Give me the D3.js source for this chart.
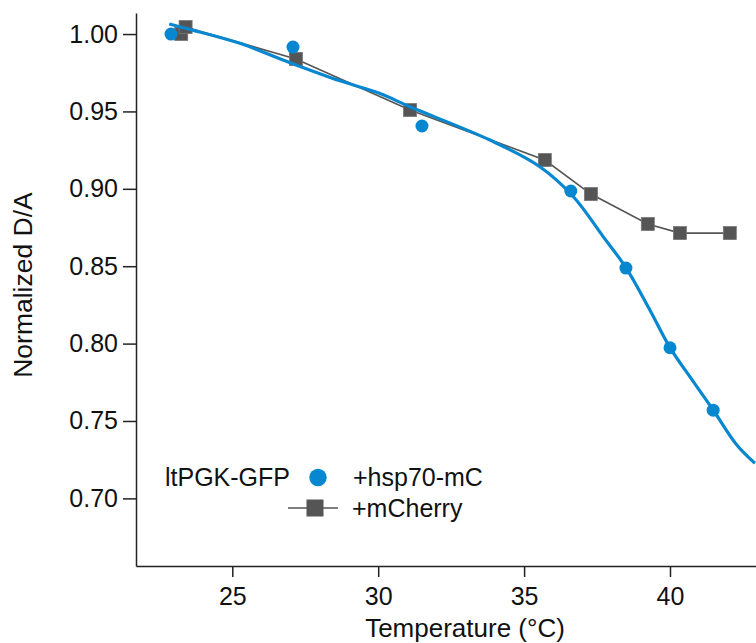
<!DOCTYPE html>
<html>
<head>
<meta charset="utf-8">
<script src="https://cdn.jsdelivr.net/npm/d3@7"></script>
<style>
  body { margin: 0; background: #fff; }
  svg { display: block; font-family: "Liberation Sans", Arial, Helvetica, sans-serif; }
  .axis path, .axis line { stroke: #222; stroke-width: 1.5; }
  .axis text { font-size: 25px; fill: #111; }
</style>
</head>
<body>
<div id="chart"></div>
<script>
// +mCherry (gray squares, joined by line)
const cherryTemp = [23.25, 23.4, 27.18, 31.09, 35.71, 37.29, 39.24, 40.34, 42.05];
const cherryVal  = [1.000, 1.0045, 0.9839, 0.9509, 0.9186, 0.8966, 0.8773, 0.8714, 0.8714];

// +hsp70-mC (blue dots)
const hspTemp = [22.9, 27.08, 31.5, 36.6, 38.49, 40.0, 41.48];
const hspVal  = [1.000, 0.9916, 0.9406, 0.8986, 0.8488, 0.7973, 0.757];

// fitted blue curve
const fitTemp = [22.84, 23.55, 25.26, 26.98, 28.69, 30.0, 31.09, 33.83, 35.54, 36.69, 37.71, 38.5, 39.31, 40.0, 40.8, 41.48, 42.29, 42.91];
const fitVal  = [1.0065, 1.003, 0.994, 0.9815, 0.9698, 0.962, 0.953, 0.9315, 0.9143, 0.8949, 0.8691, 0.8488, 0.8217, 0.7974, 0.7754, 0.7571, 0.7345, 0.7227];

const xTicks = [25, 30, 35, 40];
const yTicks = [0.70, 0.75, 0.80, 0.85, 0.90, 0.95, 1.00];

const width = 756, height = 643;
const plotLeft = 136, plotTop = 13, plotBottom = 566;

const svg = d3.select('#chart').append('svg')
  .attr('width', width)
  .attr('height', height);

const x = d3.scaleLinear()
  .domain([21.7, 43.0])
  .range([plotLeft, plotLeft + (43.0 - 21.7) * 29.18]);

const y = d3.scaleLinear()
  .domain([0.6563, 1.0136])
  .range([plotBottom, plotTop]);

const xAxis = d3.axisBottom(x)
  .tickValues(xTicks)
  .tickFormat(d3.format('d'))
  .tickSize(11)
  .tickSizeOuter(0)
  .tickPadding(10);

const yAxis = d3.axisLeft(y)
  .tickValues(yTicks)
  .tickFormat(d3.format('.2f'))
  .tickSize(13)
  .tickSizeOuter(0)
  .tickPadding(5);

svg.append('g')
  .attr('class', 'x axis')
  .attr('transform', `translate(0,${plotBottom})`)
  .call(xAxis);

svg.append('g')
  .attr('class', 'y axis')
  .attr('transform', `translate(${plotLeft},0)`)
  .call(yAxis);

// axis titles
svg.append('text')
  .attr('x', 465)
  .attr('y', 637)
  .attr('text-anchor', 'middle')
  .style('font-size', '26px')
  .attr('fill', '#111')
  .text('Temperature (°C)');

svg.append('text')
  .attr('transform', 'translate(32,285) rotate(-90)')
  .attr('text-anchor', 'middle')
  .style('font-size', '26.5px')
  .attr('fill', '#111')
  .text('Normalized D/A');

const gray = '#555555';
const blue = '#0787cf';

// mCherry line + squares
const cherry = cherryTemp.map((t, i) => ({ t, v: cherryVal[i] }));
const line = d3.line().x(d => x(d.t)).y(d => y(d.v));

svg.append('path')
  .attr('d', line(cherry))
  .attr('fill', 'none')
  .attr('stroke', gray)
  .attr('stroke-width', 1.6);

const sq = 13;
svg.append('g')
  .selectAll('rect')
  .data(cherry)
  .enter()
  .append('rect')
  .attr('x', d => x(d.t) - sq / 2)
  .attr('y', d => y(d.v) - sq / 2)
  .attr('width', sq)
  .attr('height', sq)
  .attr('fill', gray)
  .attr('stroke', '#777')
  .attr('stroke-width', 0.8);

// fitted curve
const fit = fitTemp.map((t, i) => ({ t, v: fitVal[i] }));
svg.append('path')
  .attr('d', d3.line().curve(d3.curveCatmullRom.alpha(0.5)).x(d => x(d.t)).y(d => y(d.v))(fit))
  .attr('fill', 'none')
  .attr('stroke', blue)
  .attr('stroke-width', 3.2);

// hsp70 dots
const hsp = hspTemp.map((t, i) => ({ t, v: hspVal[i] }));
svg.append('g')
  .selectAll('circle')
  .data(hsp)
  .enter()
  .append('circle')
  .attr('cx', d => x(d.t))
  .attr('cy', d => y(d.v))
  .attr('r', 6.5)
  .attr('fill', blue);

// legend
const legend = svg.append('g').style('font-size', '25px').attr('fill', '#111');
legend.append('text').attr('x', 165).attr('y', 486).text('ltPGK-GFP');
legend.append('circle').attr('cx', 318).attr('cy', 477.5).attr('r', 8.7).attr('fill', blue);
legend.append('text').attr('x', 353).attr('y', 486).text('+hsp70-mC');
legend.append('line')
  .attr('x1', 288).attr('x2', 338)
  .attr('y1', 508).attr('y2', 508)
  .attr('stroke', gray).attr('stroke-width', 1.4);
legend.append('rect')
  .attr('x', 306.5).attr('y', 499.5)
  .attr('width', 17).attr('height', 17)
  .attr('fill', gray);
legend.append('text').attr('x', 352).attr('y', 517).text('+mCherry');
</script>
</body>
</html>
